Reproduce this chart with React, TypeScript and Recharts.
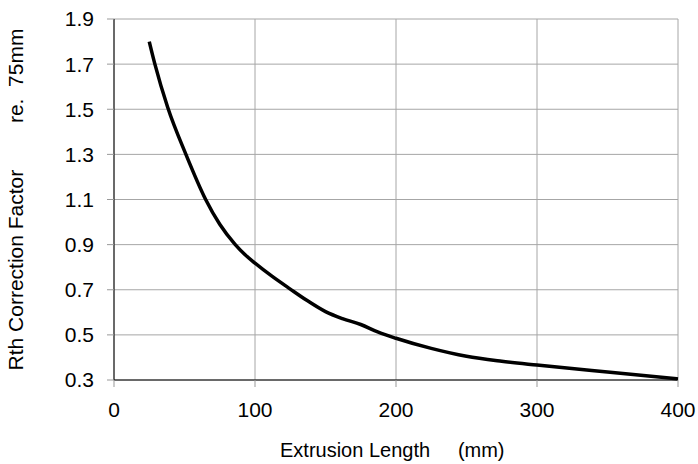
import React from "react"
import {
  LineChart,
  Line,
  XAxis,
  YAxis,
  CartesianGrid,
} from "recharts"

// extrusion length (mm) vs correction factor
const lengths = [25, 29, 38, 51, 65, 75, 86, 93, 100, 112, 125, 137, 150, 162, 175, 187, 200, 225, 250, 275, 300, 350, 400]
const factors = [1.8, 1.7, 1.51, 1.3, 1.1, 0.99, 0.9, 0.855, 0.818, 0.76, 0.703, 0.652, 0.603, 0.572, 0.546, 0.513, 0.485, 0.44, 0.405, 0.383, 0.366, 0.335, 0.305]

const xTicks = [0, 100, 200, 300, 400]
const yTicks = [0.3, 0.5, 0.7, 0.9, 1.1, 1.3, 1.5, 1.7, 1.9]

const data = lengths.map((len, i) => ({ len, factor: factors[i] }))

const font = "'Liberation Sans', Arial, sans-serif"

function YLabel({ viewBox }: any) {
  const cy = viewBox.y + viewBox.height / 2
  return (
    <text
      x={0}
      y={0}
      transform={`translate(23, ${cy}) rotate(-90)`}
      textAnchor="middle"
      fontSize={21}
      fontFamily={font}
      fill="#000"
      style={{ whiteSpace: "pre" }}
    >
      {"Rth Correction Factor        re.  75mm"}
    </text>
  )
}

function XLabel() {
  return (
    <text
      x={280}
      y={457}
      textAnchor="start"
      fontSize={20}
      fontFamily={font}
      fill="#000"
      style={{ whiteSpace: "pre" }}
    >
      {"Extrusion Length     (mm)"}
    </text>
  )
}

export default function App() {
  return (
    <div style={{ position: "absolute", left: 0, top: 0, background: "#fff" }}>
      <LineChart
        width={698}
        height={464}
        data={data}
        margin={{ top: 19, right: 20, bottom: 54, left: 0 }}
      >
        <CartesianGrid stroke="#a6a6a6" strokeWidth={1} />
        <XAxis
          dataKey="len"
          type="number"
          domain={[0, 400]}
          ticks={xTicks}
          height={30}
          stroke="#000"
          tickSize={7}
          tickLine={{ stroke: "#999" }}
          tick={{ fill: "#000", fontSize: 21, fontFamily: font }}
          tickMargin={15}
          label={<XLabel />}
        />
        <YAxis
          type="number"
          domain={[0.3, 1.9]}
          ticks={yTicks}
          width={114}
          stroke="#000"
          tickSize={7}
          tickLine={{ stroke: "#999" }}
          tick={{ fill: "#000", fontSize: 21, fontFamily: font }}
          tickMargin={13}
          tickFormatter={(v: number) => v.toFixed(1)}
          label={<YLabel />}
        />
        <Line
          type="monotone"
          dataKey="factor"
          stroke="#000"
          strokeWidth={3.5}
          dot={false}
          isAnimationActive={false}
        />
      </LineChart>
    </div>
  )
}
